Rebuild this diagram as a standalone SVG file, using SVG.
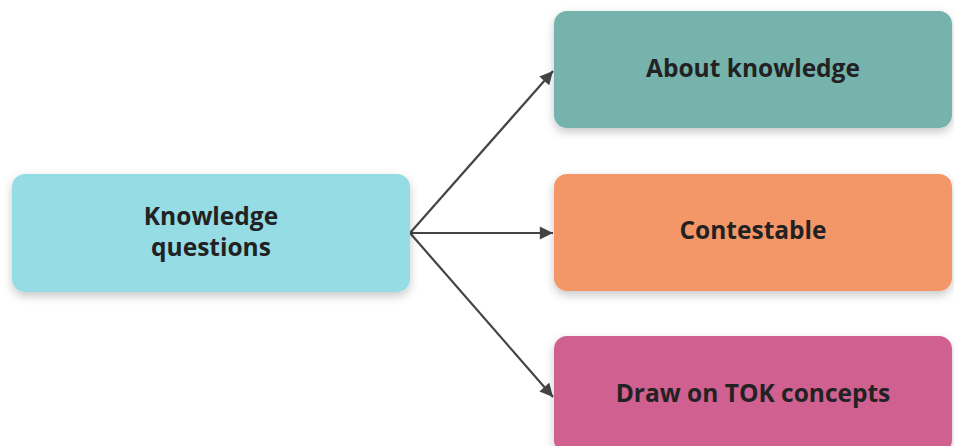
<svg xmlns="http://www.w3.org/2000/svg" width="954" height="446" viewBox="0 0 954 446">
<style>
.lbl{font-family:"Open Sans","Liberation Sans",sans-serif;font-weight:bold;font-size:24.5px;fill:#222;text-anchor:middle}
.con{stroke:#444;stroke-width:2.2;fill:none}
</style>
<defs>
<filter id="sh" x="-10%" y="-20%" width="120%" height="150%">
<feDropShadow dx="0" dy="4" stdDeviation="5" flood-color="#000" flood-opacity="0.22"/>
</filter>
<marker id="ah" viewBox="0 0 10 10" refX="10" refY="5" markerWidth="6.5" markerHeight="6" orient="auto" markerUnits="strokeWidth">
<path d="M0,0 L10,5 L0,10 z" fill="#444"/>
</marker>
</defs>
<rect width="954" height="446" fill="#fff"/>
<g id="connectors">
<line class="con" x1="410" y1="233" x2="553" y2="71" marker-end="url(#ah)"/>
<line class="con" x1="410" y1="233" x2="553" y2="233" marker-end="url(#ah)"/>
<line class="con" x1="410" y1="233" x2="553" y2="397" marker-end="url(#ah)"/>
</g>
<g id="n_kq">
<rect x="12" y="174" width="398" height="118" rx="13" fill="#95DCE4" filter="url(#sh)"/>
<text class="lbl" x="211" y="225">Knowledge</text>
<text class="lbl" x="211" y="256">questions</text>
</g>
<g id="n_about">
<rect x="554" y="11" width="398" height="117" rx="13" fill="#74B3AC" filter="url(#sh)"/>
<text class="lbl" x="753" y="77">About knowledge</text>
</g>
<g id="n_contest">
<rect x="554" y="174" width="398" height="117" rx="13" fill="#F49767" filter="url(#sh)"/>
<text class="lbl" x="753" y="239">Contestable</text>
</g>
<g id="n_tok">
<rect x="554" y="336" width="398" height="117" rx="13" fill="#CF6190" filter="url(#sh)"/>
<text class="lbl" x="753" y="402">Draw on TOK concepts</text>
</g>
</svg>
